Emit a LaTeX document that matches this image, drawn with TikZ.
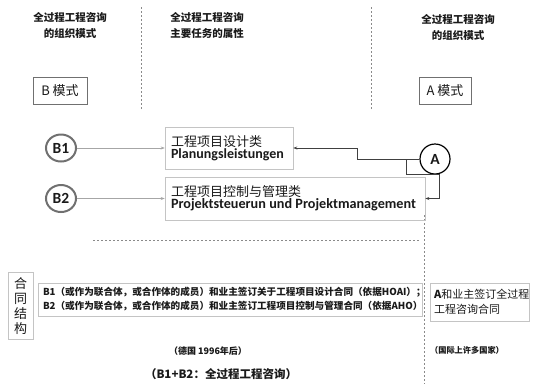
\documentclass[tikz,border=0pt]{standalone}
\usepackage{fontspec}
\newfontfamily\cjk{Noto Sans CJK SC}
\newfontfamily\lat{Carlito}
\usetikzlibrary{arrows.meta,shapes.geometric}
\definecolor{boxgray}{HTML}{C4C4C4}
\definecolor{dashgray}{HTML}{8A8A8A}
\definecolor{ringgray}{HTML}{707070}
\definecolor{txt}{HTML}{1A1A1A}
\tikzset{
  hdr/.style={align=center, text=txt, font=\cjk\bfseries\fontsize{10.5}{16}\selectfont},
  dashline/.style={draw=dashgray, dash pattern=on 2pt off 2pt, line width=0.6pt},
  modebox/.style={draw=ringgray, line width=0.6pt, minimum height=27, inner sep=0pt, text=txt, font=\cjk\fontsize{13}{15}\selectfont},
  bcirc/.style={ellipse, draw=ringgray, line width=2pt, minimum width=30, minimum height=27, inner sep=0pt, text=txt, font=\lat\bfseries\fontsize{15.5}{16}\selectfont},
  acirc/.style={ellipse, draw=black, line width=1.2pt, minimum width=30, minimum height=30, inner sep=0pt, text=txt, font=\lat\bfseries\fontsize{15.5}{16}\selectfont},
  taskbox/.style={draw=boxgray, line width=0.6pt, align=left, inner xsep=6pt, inner ysep=0pt, text=txt},
  barrow/.style={draw=gray!70, line width=0.5pt, -{Stealth[length=4pt,width=3pt]}},
  aconn/.style={draw=black!75, line width=0.7pt, -{Stealth[length=4pt,width=3pt]}},
  cbox/.style={draw=boxgray, line width=0.6pt, inner sep=0pt, text=txt},
  note/.style={text=txt, font=\cjk\bfseries\fontsize{9}{11}\selectfont},
}
\begin{document}
\begin{tikzpicture}[x=1pt,y=-1pt]
\useasboundingbox[fill=white] (0,0) rectangle (534,384);

% headers
\node[hdr] (h1) at (70,25) {全过程工程咨询\\的组织模式};
\node[hdr] (h2) at (207,25) {全过程工程咨询\\主要任务的属性};
\node[hdr] (h3) at (458,27) {全过程工程咨询\\的组织模式};

% dashed separators
\draw[dashline] (141,7) -- (141,110);
\draw[dashline] (371,7) -- (371,110);
\draw[dashline] (424,215) -- (424,384);
\draw[dashline] (93,240) -- (420,240);

% mode boxes
\node[modebox, minimum width=54] (bm) at (60,90.5) {B 模式};
\node[modebox, minimum width=52] (am) at (445,90.5) {A 模式};

% task boxes
\node[taskbox, text width=116, minimum height=42] (box1) at (229,148)
  {{\cjk\fontsize{13}{15}\selectfont 工程项目设计类}\\{\lat\bfseries\fontsize{14}{15}\selectfont Planungsleistungen}};
\node[taskbox, text width=248, minimum height=43] (box2) at (295,198.5)
  {{\cjk\fontsize{13}{15}\selectfont 工程项目控制与管理类}\\{\lat\bfseries\fontsize{14.2}{15}\selectfont Projektsteuerun und Projektmanagement}};

% circles
\node[bcirc] (b1) at (61,148) {B1};
\node[bcirc] (b2) at (61,198.5) {B2};
\node[acirc] (a) at (435,159) {A};

% connectors
\draw[barrow] (b1) -- (box1.west);
\draw[barrow] (b2) -- (box2.west);
\coordinate (j1) at (406,159);
\coordinate (j2) at (357,159);
\draw[aconn] (a.west) -- (j2) |- (box1.east);
\draw[aconn] (j1) -- (406,174) -| (439,198.5) -- (box2.east);

% contract structure
\node[cbox, minimum width=25, minimum height=67, align=center,
      font=\cjk\fontsize{13}{15}\selectfont] (ht) at (20.5,306) {合\\同\\结\\构};
\node[cbox, minimum width=384, minimum height=33, text width=374, align=left,
      inner xsep=5pt, font=\cjk\bfseries\fontsize{9.6}{14}\selectfont] (bc) at (230,299.5)
  {B1（或作为联合体，或合作体的成员）和业主签订关于工程项目设计合同（依据HOAI）；\\B2（或作为联合体，或合作体的成员）和业主签订工程项目控制与管理合同（依据AHO）};
\node[cbox, minimum width=99, minimum height=38, text width=91, align=left,
      inner xsep=4pt, font=\cjk\fontsize{11}{15}\selectfont] (ac) at (479.5,302)
  {{\bfseries A}和业主签订全过程\\工程咨询合同};

% notes
\node[note] (n1) at (208,351) {（德国 1996年后）};
\node[note, font=\cjk\bfseries\fontsize{8.2}{10}\selectfont] (n2) at (467,350) {（国际上许多国家）};
\node[note, font=\cjk\bfseries\fontsize{11.5}{13}\selectfont] (n3) at (221,374) {（B1+B2：全过程工程咨询）};
\end{tikzpicture}
\end{document}
